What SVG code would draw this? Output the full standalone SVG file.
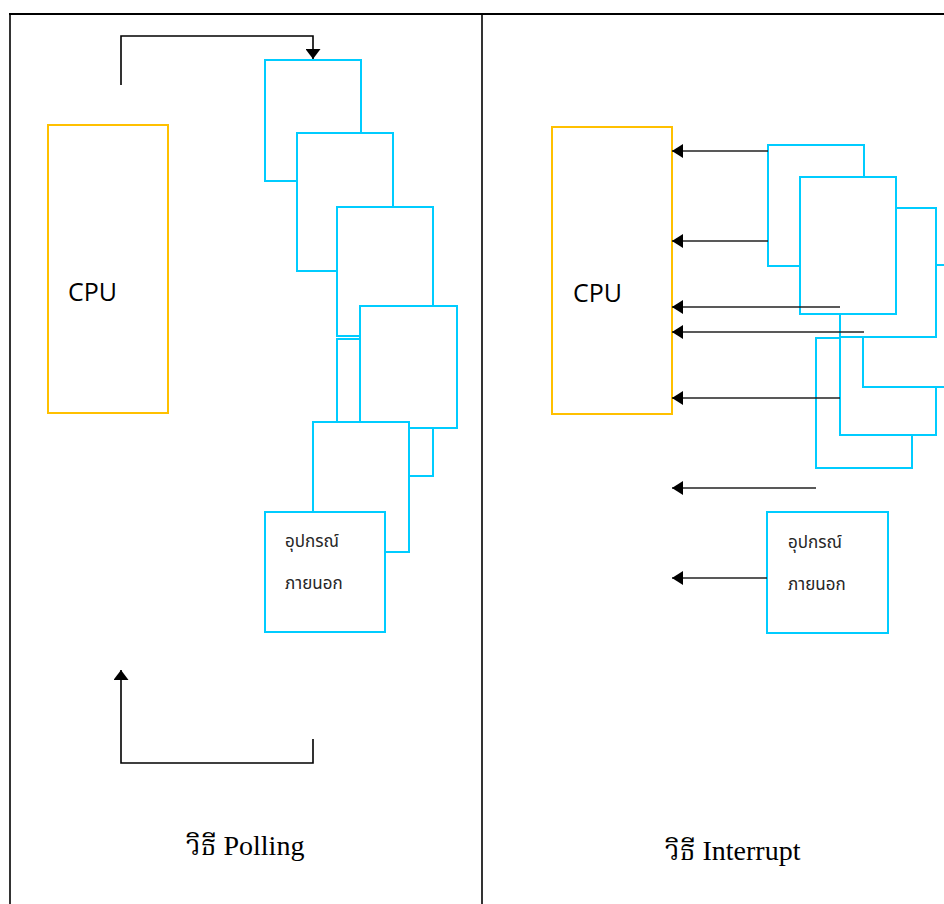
<svg xmlns="http://www.w3.org/2000/svg" width="944" height="904" viewBox="0 0 944 904">
  <defs>
    <style>
      .frame { fill: none; stroke: #000; }
      .cpu { fill: #fff; stroke: #FFC000; stroke-width: 2; }
      .dev { fill: #fff; stroke: #00CCFF; stroke-width: 2; }
      .cpu-label { font-family: "Open Sans", "Noto Sans", sans-serif; font-size: 25px; fill: #000; }
      .dev-label { font-family: "Noto Sans Thai", "Noto Sans", "DejaVu Sans", sans-serif; font-size: 17px; fill: #262626; }
      .caption { font-family: "Liberation Serif", "Noto Serif Thai", "Noto Sans Thai", serif; font-size: 28px; fill: #000; }
      .loop { fill: none; stroke: #000; stroke-width: 1.6; }
      .irq { fill: none; stroke: #222; stroke-width: 1.3; marker-end: url(#head); }
    </style>
    <marker id="head" markerUnits="userSpaceOnUse" markerWidth="11" markerHeight="14" refX="11" refY="7" orient="auto">
      <path d="M0,0 L11,7 L0,14 Z" fill="#000"/>
    </marker>
    <marker id="head-big" markerUnits="userSpaceOnUse" markerWidth="10" markerHeight="15" refX="10" refY="7.5" orient="auto">
      <path d="M0,0 L10,7.5 L0,15 Z" fill="#000"/>
    </marker>
  </defs>

  <rect width="944" height="904" fill="#fff"/>

  <!-- table frame -->
  <g id="frame">
    <line class="frame" x1="9" y1="14" x2="944" y2="14" stroke-width="2"/>
    <line class="frame" x1="10" y1="14" x2="10" y2="904" stroke-width="1.6"/>
    <line class="frame" x1="482" y1="14" x2="482" y2="904" stroke-width="1.6"/>
  </g>

  <!-- Polling side -->
  <g id="cpu-poll">
    <rect class="cpu" x="48" y="125" width="120" height="288"/>
    <text class="cpu-label" x="68" y="301">CPU</text>
  </g>
  <g id="dev-poll-1"><rect class="dev" x="265" y="60" width="96" height="121"/></g>
  <g id="dev-poll-2"><rect class="dev" x="297" y="133" width="96" height="138"/></g>
  <g id="dev-poll-3"><rect class="dev" x="337" y="207" width="96" height="129"/></g>
  <g id="dev-poll-4"><rect class="dev" x="337" y="339" width="96" height="137"/></g>
  <g id="dev-poll-5"><rect class="dev" x="360" y="306" width="97" height="122"/></g>
  <g id="dev-poll-6"><rect class="dev" x="313" y="422" width="96" height="130"/></g>
  <g id="dev-poll-7">
    <rect class="dev" x="265" y="512" width="120" height="120"/>
    <text class="dev-label" x="285" y="547">อุปกรณ์</text>
    <text class="dev-label" x="285" y="589">ภายนอก</text>
  </g>

  <!-- Interrupt side -->
  <g id="cpu-int">
    <rect class="cpu" x="552" y="127" width="120" height="287"/>
    <text class="cpu-label" x="573" y="302">CPU</text>
  </g>
  <g id="dev-int-1"><rect class="dev" x="816" y="338" width="96" height="130"/></g>
  <g id="dev-int-2"><rect class="dev" x="840" y="298" width="96" height="137"/></g>
  <g id="dev-int-3"><rect class="dev" x="863" y="265" width="97" height="122"/></g>
  <g id="dev-int-4"><rect class="dev" x="840" y="208" width="96" height="129"/></g>
  <g id="dev-int-5"><rect class="dev" x="768" y="145" width="96" height="121"/></g>
  <g id="dev-int-6"><rect class="dev" x="800" y="177" width="96" height="137"/></g>
  <g id="dev-int-7">
    <rect class="dev" x="767" y="512" width="121" height="121"/>
    <text class="dev-label" x="788" y="548">อุปกรณ์</text>
    <text class="dev-label" x="788" y="590">ภายนอก</text>
  </g>

  <!-- connectors -->
  <g id="connectors">
    <path class="loop" d="M121,85 V36 H313 V59" marker-end="url(#head-big)"/>
    <path class="loop" d="M313,739 V763 H121 V670" marker-end="url(#head-big)"/>
    <line class="irq" x1="768" y1="151" x2="672" y2="151"/>
    <line class="irq" x1="768" y1="241" x2="672" y2="241"/>
    <line class="irq" x1="840" y1="307" x2="672" y2="307"/>
    <line class="irq" x1="864" y1="332" x2="672" y2="332"/>
    <line class="irq" x1="840" y1="398" x2="672" y2="398"/>
    <line class="irq" x1="816" y1="488" x2="672" y2="488"/>
    <line class="irq" x1="767" y1="578" x2="672" y2="578"/>
  </g>

  <!-- captions -->
  <text class="caption" x="186" y="855">วิธี Polling</text>
  <text class="caption" x="665" y="860">วิธี Interrupt</text>
</svg>
